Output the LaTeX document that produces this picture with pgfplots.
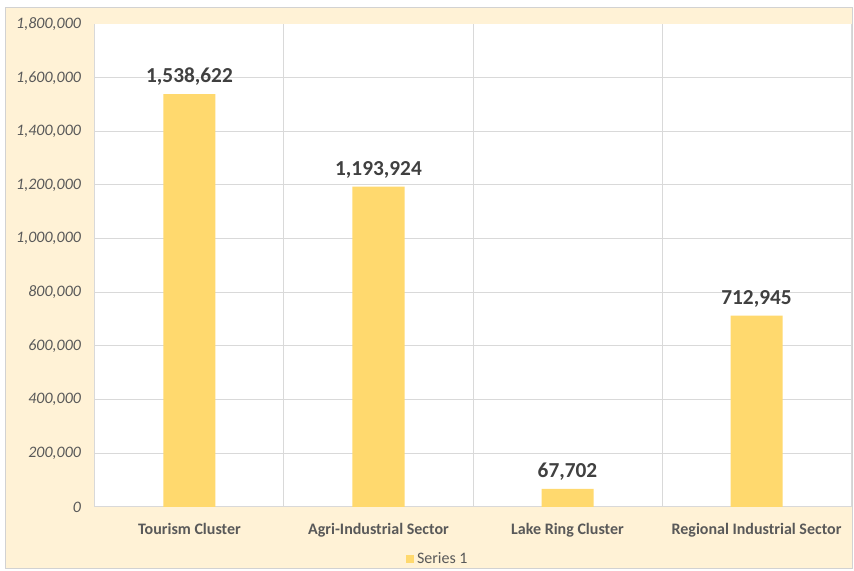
\documentclass[border=0pt]{standalone}
\usepackage{fontspec}
\setmainfont{Carlito}
\usepackage{pgfplots}
\pgfplotsset{compat=1.18}

\definecolor{cream}{HTML}{FFF2D6}
\definecolor{barfill}{HTML}{FFD96E}
\definecolor{gridgray}{HTML}{D9D9D9}
\definecolor{ticktext}{HTML}{595959}
\definecolor{labeltext}{HTML}{404040}

\begin{document}
\begin{tikzpicture}
% page frame: 854 x 571 px at 0.75pt per px, axis box origin at px (95,507)
\fill[white] (-71.25pt,-48pt) rectangle (569.25pt,380.25pt);
\filldraw[fill=cream,draw=gray!35] (-67.5pt,-45.75pt) rectangle (567.75pt,375pt);
\begin{axis}[
    scale only axis,
    width=567pt, height=362.25pt,
    axis background/.style={fill=white},
    axis line style={draw=none},
    ybar, bar width=39pt,
    xmin=-0.5, xmax=3.5,
    ymin=0, ymax=1800000,
    xtick={0,1,2,3},
    xticklabels={Tourism Cluster,Agri-Industrial Sector,Lake Ring Cluster,Regional Industrial Sector},
    minor xtick={-0.5,0.5,1.5,2.5,3.5},
    minor x grid style={gridgray, line width=0.75pt},
    xminorgrids,
    ytick={0,200000,...,1600000},
    extra y ticks={1800000},
    extra y tick style={grid=none},
    ymajorgrids,
    major grid style={gridgray, line width=0.75pt},
    major tick length=0pt, minor tick length=0pt,
    tick style={draw=none},
    scaled y ticks=false,
    yticklabel={\itshape\pgfmathprintnumber[fixed,precision=0,1000 sep={,},assume math mode=true]{\tick}},
    yticklabel style={font=\fontsize{12}{14}\selectfont\itshape, text=ticktext, xshift=-7pt},
    xticklabel style={font=\fontsize{12}{14}\selectfont\bfseries, text=ticktext, yshift=-9pt},
    nodes near coords={\pgfmathprintnumber[fixed,precision=0,1000 sep={,},assume math mode=true]{\pgfplotspointmeta}},
    every node near coord/.append style={font=\fontsize{16}{19}\selectfont\bfseries, text=labeltext, anchor=south, yshift=3pt},
    legend style={at={(0.4537,-0.1077)}, anchor=center, draw=none, fill=none,
        font=\fontsize{12}{14}\selectfont, text=ticktext},
    legend image code/.code={\fill[barfill] (0pt,-3.2pt) rectangle (6.5pt,3.2pt);},
]
\addplot[fill=barfill, draw=none, bar shift=0pt] coordinates {(0,1538622) (1,1193924) (2,67702) (3,712945)};
\addlegendentry{Series 1}
\end{axis}
\end{tikzpicture}
\end{document}
